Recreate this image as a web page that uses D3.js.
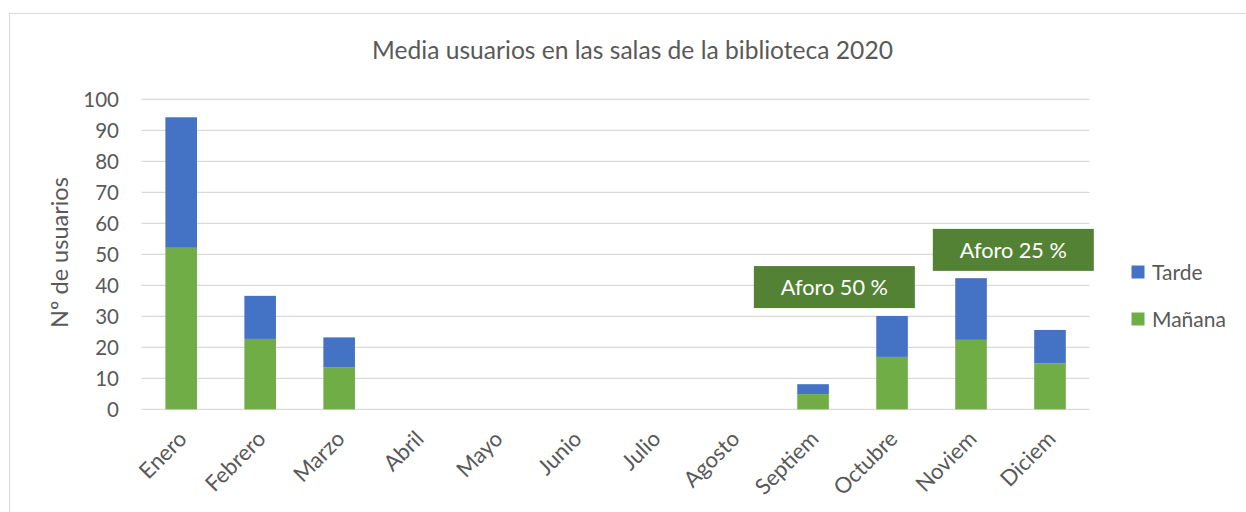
<!DOCTYPE html>
<html><head><meta charset="utf-8">
<script src="https://cdn.jsdelivr.net/npm/d3@7"></script>
<style>
body{margin:0;background:#fff;}
svg text{font-family:Lato, "Open Sans", sans-serif;fill:#595959;}
</style>
</head><body>
<svg id="chart" width="1246" height="512"></svg>
<script>
// ---- data ----
const months = ["Enero","Febrero","Marzo","Abril","Mayo","Junio","Julio","Agosto","Septiem","Octubre","Noviem","Diciem"];
const manana = [52.1, 22.7, 13.6, 0, 0, 0, 0, 0, 4.9, 16.9, 22.4, 14.8];
const tarde  = [42.1, 13.9, 9.6, 0, 0, 0, 0, 0, 3.2, 13.2, 19.9, 10.8];
const yTicks = [0,10,20,30,40,50,60,70,80,90,100];
const seriesNames = ["Mañana","Tarde"];
const seriesColors = ["#70AD47","#4472C4"];
const legendOrder = ["Tarde","Mañana"];
const title = "Media usuarios en las salas de la biblioteca 2020";
const yTitle = "Nº de usuarios";
const noteLabels = ["Aforo 50 %","Aforo 25 %"];

// ---- layout ----
const svg = d3.select("#chart");
const plot = {left:141.7, right:1089.5, top:99.3, bottom:409.3};

svg.append("rect").attr("x",9.5).attr("y",13.5).attr("width",1400).attr("height",700)
  .attr("fill","#fff").attr("stroke","#d9d9d9").attr("stroke-width",1);

const x = d3.scaleBand().domain(months).range([plot.left, plot.right])
  .paddingInner(0.6).paddingOuter(0.3);
const y = d3.scaleLinear().domain([0,100]).range([plot.bottom, plot.top]);

// gridlines
svg.append("g").selectAll("line").data(yTicks).join("line")
  .attr("x1",plot.left).attr("x2",plot.right)
  .attr("y1",d=>y(d)).attr("y2",d=>y(d))
  .attr("stroke","#d9d9d9").attr("stroke-width",1.3);

// y axis labels
const yAxis = d3.axisLeft(y).tickValues(yTicks).tickSize(0).tickPadding(0);
const yg = svg.append("g").attr("transform",`translate(${plot.left-22.7},0)`).call(yAxis);
yg.select(".domain").remove();
yg.selectAll("text").attr("font-size",20.5).attr("fill","#595959")
  .style("font-family","Lato, sans-serif").attr("dy","0.36em");

// stacked bars
const rows = months.map((m,i)=>({month:m, "Mañana":manana[i], "Tarde":tarde[i]}));
const stack = d3.stack().keys(seriesNames)(rows);
svg.append("g").selectAll("g").data(stack).join("g")
  .attr("fill",(d,i)=>seriesColors[i])
  .selectAll("rect").data(d=>d.filter(p=>p[1]-p[0]>0)).join("rect")
  .attr("x",d=>x(d.data.month)).attr("width",x.bandwidth())
  .attr("y",d=>y(d[1])).attr("height",d=>y(d[0])-y(d[1]));

// x axis labels
const xAxis = d3.axisBottom(x).tickSize(0).tickPadding(0);
const xg = svg.append("g").attr("transform",`translate(0,${plot.bottom})`).call(xAxis);
xg.select(".domain").remove();
xg.selectAll("text")
  .attr("font-size",22).attr("fill","#595959").style("font-family","Lato, sans-serif")
  .attr("text-anchor","end").attr("dy",0).attr("y",0)
  .attr("transform","translate(7,31) rotate(-45)");

// title
svg.append("text").attr("x",632.5).attr("y",59).attr("text-anchor","middle")
  .attr("font-size",24.6).text(title);

// y title
svg.append("text").attr("transform","translate(68,252.5) rotate(-90)")
  .attr("text-anchor","middle").attr("font-size",23.5).text(yTitle);

// legend
const lg = svg.append("g");
legendOrder.forEach((name,i)=>{
  const cy = 272 + i*47;
  lg.append("rect").attr("x",1131.5).attr("y",cy-6.5).attr("width",13).attr("height",13)
    .attr("fill",seriesColors[seriesNames.indexOf(name)]);
  lg.append("text").attr("x",1152).attr("y",cy).attr("dy","0.36em")
    .attr("font-size",21).text(name);
});

// annotation boxes
const notes = [
  {left: x("Septiem")-43.4, top: y(46.2)},
  {left: x("Noviem")-22.4, top: y(58.2)}
];
notes.forEach((n,i)=>{
  svg.append("rect").attr("x",n.left).attr("y",n.top).attr("width",161).attr("height",42)
    .attr("fill","#548235");
  svg.append("text").attr("x",n.left+80.5).attr("y",n.top+21).attr("dy","0.36em")
    .attr("text-anchor","middle").attr("font-size",21.7).style("fill","#fff")
    .text(noteLabels[i]);
});
</script>
</body></html>
